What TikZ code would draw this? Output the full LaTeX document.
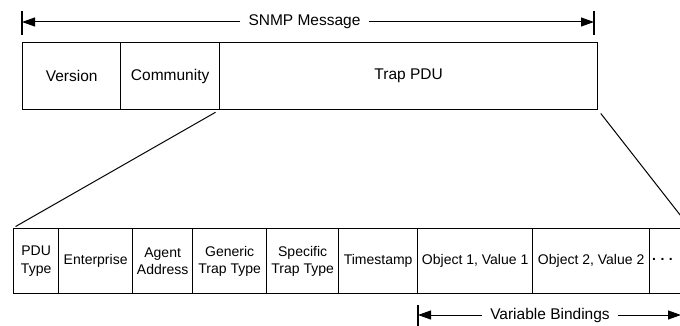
\documentclass[tikz,border=0pt]{standalone}
\usepackage{fontspec}
\setmainfont{Liberation Sans}
\usetikzlibrary{arrows.meta}
\tikzset{
  cell/.style={draw=black, line width=1.3pt, inner sep=0pt, align=center, anchor=north west},
  topcell/.style={cell, minimum height=67pt, font=\fontsize{15.5}{18}\selectfont},
  botcell/.style={cell, minimum height=65pt, font=\fontsize{14}{17.5}\selectfont},
  dim/.style={line width=1pt, -{Triangle[length=13pt,width=9pt]}},
  tick/.style={line width=1.2pt},
  lbl/.style={inner xsep=8pt, inner ysep=0pt, font=\fontsize{15.5}{18}\selectfont},
  zoomline/.style={line width=1pt}
}
\begin{document}
\begin{tikzpicture}[x=1pt,y=-1pt]
\clip (0,0) rectangle (680,326);
\fill[white] (0,0) rectangle (680,326);
% top arrow
\coordinate (tl) at (22,22);
\coordinate (tr) at (594,22);
\coordinate (tlt) at (22,11);
\coordinate (tlb) at (22,35);
\coordinate (trt) at (594,11);
\coordinate (trb) at (594,35);
\node[lbl] (snmp) at (304.5,22) {SNMP Message};
\draw[dim] (snmp.west) -- (tl);
\draw[dim] (snmp.east) -- (tr);
\draw[tick] (tlt) -- (tlb);
\draw[tick] (trt) -- (trb);
% top row
\node[topcell, minimum width=98pt] (ver) at (22,42) {Version};
\node[topcell, minimum width=99pt] (com) at (120,42) {Community};
\node[topcell, minimum width=378pt] (trap) at (219,42) {Trap PDU};
% bottom row
\node[botcell, minimum width=45pt] (pdu) at (13,228) {PDU\\Type};
\node[botcell, minimum width=74pt] (ent) at (58,228) {Enterprise};
\node[botcell, minimum width=60pt] (agt) at (132,228) {Agent\\Address};
\node[botcell, minimum width=74pt] (gen) at (192,228) {Generic\\Trap Type};
\node[botcell, minimum width=72pt] (spe) at (266,228) {Specific\\Trap Type};
\node[botcell, minimum width=79pt] (tim) at (338,228) {Timestamp};
\node[botcell, minimum width=115pt] (ob1) at (417,228) {Object 1, Value 1};
\node[botcell, minimum width=117pt] (ob2) at (532,228) {Object 2, Value 2};
\node[botcell, minimum width=40pt, text width=37pt, align=left] (dots) at (649,228) {\hspace{1pt}\raisebox{4pt}{\textbf{.\hspace{4.5pt}.\hspace{4.5pt}.}}};
% zoom lines
\draw[zoomline, shorten <=4pt, shorten >=3pt] (trap.south west) -- (pdu.north west);
\draw[zoomline, shorten <=4pt] (trap.south east) -- (dots.north east);
% variable bindings arrow
\coordinate (vl) at (418,315);
\coordinate (vr) at (681,315);
\coordinate (vlt) at (418,305);
\coordinate (vlb) at (418,327);
\node[lbl] (vb) at (550,315) {Variable Bindings};
\draw[dim] (vb.west) -- (vl);
\draw[dim] (vb.east) -- (vr);
\draw[tick] (vlt) -- (vlb);
\end{tikzpicture}
\end{document}
